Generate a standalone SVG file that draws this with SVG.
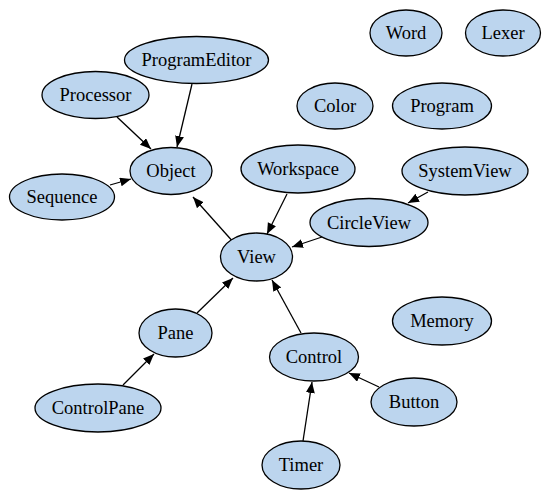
<svg xmlns="http://www.w3.org/2000/svg" width="551" height="498" viewBox="0 0 551 498">
<style>
.node ellipse{fill:#bcd5ee;stroke:#000;stroke-width:1.3}
.node text{font-family:"Liberation Serif","Times New Roman",serif;font-size:18.5px;text-anchor:middle;fill:#000}
.edges path{stroke:#000;stroke-width:1.3;fill:none;marker-end:url(#ah)}
</style>
<defs>
<marker id="ah" markerUnits="userSpaceOnUse" markerWidth="12" markerHeight="10" refX="11" refY="4.5" orient="auto" viewBox="0 0 12 10">
<path d="M0,0 L11,4.5 L0,9 z" fill="#000"/>
</marker>
</defs>
<rect width="551" height="498" fill="#fff"/>
<g class="edges">
<path d="M117,117 L151,149"/>
<path d="M192,84 L177,147"/>
<path d="M110,185 L131,179"/>
<path d="M235,244 L193,197"/>
<path d="M287,194 L267,234"/>
<path d="M428,192 L408,203"/>
<path d="M322,237 L292,247"/>
<path d="M197,313 L233,278"/>
<path d="M123,385 L154,354"/>
<path d="M301,333 L272,280"/>
<path d="M379,387 L349,373"/>
<path d="M303,441 L312,382"/>
</g>
<g id="Word" class="node"><ellipse cx="406" cy="33" rx="36" ry="23"/><text x="406" y="39">Word</text></g>
<g id="Lexer" class="node"><ellipse cx="503" cy="33" rx="37.5" ry="23"/><text x="503" y="39">Lexer</text></g>
<g id="ProgramEditor" class="node"><ellipse cx="196.5" cy="60" rx="72" ry="23.5"/><text x="196.5" y="66">ProgramEditor</text></g>
<g id="Processor" class="node"><ellipse cx="95.5" cy="95" rx="53.5" ry="23.5"/><text x="95.5" y="101">Processor</text></g>
<g id="Color" class="node"><ellipse cx="335" cy="106" rx="38" ry="23"/><text x="335" y="112">Color</text></g>
<g id="Program" class="node"><ellipse cx="442" cy="106" rx="49.5" ry="23"/><text x="442" y="112">Program</text></g>
<g id="Object" class="node"><ellipse cx="171" cy="171" rx="41" ry="23.5"/><text x="171" y="177">Object</text></g>
<g id="Workspace" class="node"><ellipse cx="298" cy="169" rx="57" ry="24"/><text x="298" y="175">Workspace</text></g>
<g id="SystemView" class="node"><ellipse cx="465" cy="171" rx="63" ry="24"/><text x="465" y="177">SystemView</text></g>
<g id="Sequence" class="node"><ellipse cx="62" cy="197" rx="52.5" ry="23"/><text x="62" y="203">Sequence</text></g>
<g id="CircleView" class="node"><ellipse cx="369" cy="222.5" rx="59" ry="24"/><text x="369" y="228.5">CircleView</text></g>
<g id="View" class="node"><ellipse cx="256.5" cy="257" rx="36" ry="24"/><text x="256.5" y="263">View</text></g>
<g id="Memory" class="node"><ellipse cx="442" cy="321" rx="49.5" ry="24"/><text x="442" y="327">Memory</text></g>
<g id="Pane" class="node"><ellipse cx="175.5" cy="333" rx="36.5" ry="24"/><text x="175.5" y="339">Pane</text></g>
<g id="Control" class="node"><ellipse cx="314" cy="357" rx="44.5" ry="24"/><text x="314" y="363">Control</text></g>
<g id="Button" class="node"><ellipse cx="414" cy="402" rx="43" ry="24"/><text x="414" y="408">Button</text></g>
<g id="ControlPane" class="node"><ellipse cx="98" cy="408" rx="63" ry="24"/><text x="98" y="414">ControlPane</text></g>
<g id="Timer" class="node"><ellipse cx="301" cy="465" rx="39" ry="24"/><text x="301" y="471">Timer</text></g>
</svg>
